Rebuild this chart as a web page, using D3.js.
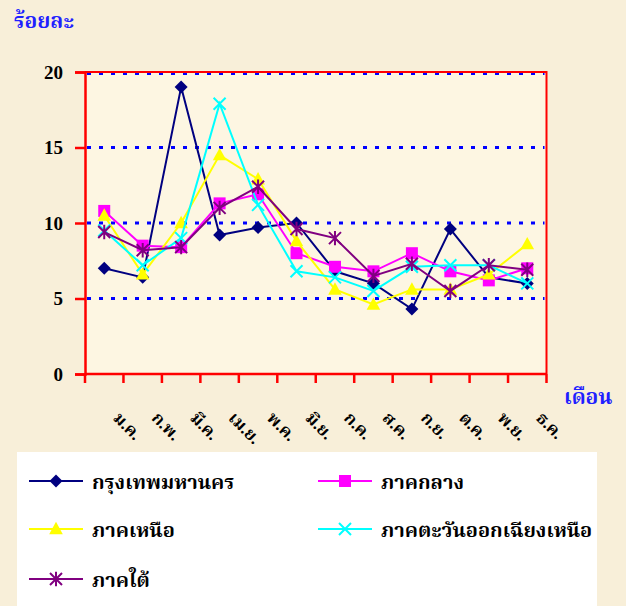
<!DOCTYPE html>
<html>
<head>
<meta charset="utf-8">
<script src="https://cdn.jsdelivr.net/npm/d3@7"></script>
<style>
  html, body { margin: 0; padding: 0; background: #f8efd9; }
  svg { display: block; }
  text { font-family: "Liberation Serif", "Times New Roman", "Noto Serif Thai", "Noto Sans Thai", serif; font-weight: bold; }
</style>
</head>
<body>
<script>
// months (Thai abbreviations)
let months = ["ม.ค.", "ก.พ.", "มี.ค.", "เม.ย.", "พ.ค.", "มิ.ย.", "ก.ค.", "ส.ค.", "ก.ย.", "ต.ค.", "พ.ย.", "ธ.ค."];
let yTicks = [0, 5, 10, 15, 20];

// percent per month
let bangkok   = [7.0, 6.4, 19.0, 9.2, 9.7, 10.0, 6.8, 6.0, 4.3, 9.6, 6.4, 6.0];
let central   = [10.8, 8.5, 8.4, 11.3, 11.9, 8.0, 7.1, 6.8, 8.0, 6.8, 6.2, 7.0];
let north     = [10.5, 6.6, 10.0, 14.5, 12.9, 8.8, 5.6, 4.6, 5.6, 5.6, 6.6, 8.6];
let northeast = [9.5, 7.2, 9.0, 17.9, 11.2, 6.8, 6.4, 5.5, 7.1, 7.2, 7.2, 6.0];
let south     = [9.4, 8.2, 8.4, 11.0, 12.4, 9.6, 9.0, 6.5, 7.3, 5.5, 7.2, 6.9];

let series = [
  { name: "กรุงเทพมหานคร", values: bangkok, color: "#000080", marker: "diamond" },
  { name: "ภาคกลาง", values: central, color: "#ff00ff", marker: "square" },
  { name: "ภาคเหนือ", values: north, color: "#ffff00", marker: "triangle" },
  { name: "ภาคตะวันออกเฉียงเหนือ", values: northeast, color: "#00ffff", marker: "x" },
  { name: "ภาคใต้", values: south, color: "#800080", marker: "star" }
];

let width = 626, height = 606;
let plot = { left: 85, right: 546.5, top: 72, bottom: 374 };

let svg = d3.select("body").append("svg")
  .attr("width", width)
  .attr("height", height);

let x = d3.scaleBand().domain(months).range([plot.left, plot.right]);
let y = d3.scaleLinear().domain([0, 20]).range([plot.bottom, plot.top]);

// plot background
svg.append("rect")
  .attr("x", plot.left).attr("y", plot.top)
  .attr("width", plot.right - plot.left).attr("height", plot.bottom - plot.top)
  .style("fill", "#fdf6e2");

// dotted gridlines
svg.append("g").selectAll("line")
  .data(yTicks.filter(d => d > 0))
  .enter().append("line")
  .attr("x1", plot.left + 2).attr("x2", plot.right - 2)
  .attr("y1", d => y(d) + (d == 20 ? 1.5 : 0)).attr("y2", d => y(d) + (d == 20 ? 1.5 : 0))
  .style("stroke", "#0000ff")
  .style("stroke-width", 3)
  .style("stroke-dasharray", "4,8");

// top and right border
svg.append("path")
  .attr("d", `M${plot.left},${plot.top}H${plot.right}V${plot.bottom}`)
  .style("fill", "none").style("stroke", "#ff0000").style("stroke-width", 2);

// y axis
let yAxis = svg.append("g")
  .attr("transform", `translate(${plot.left},0)`)
  .call(d3.axisLeft(y).tickValues(yTicks).tickSize(10).tickPadding(12));
yAxis.select(".domain").style("stroke", "#ff0000").style("stroke-width", 2.5);
yAxis.selectAll(".tick line").style("stroke", "#ff0000").style("stroke-width", 2.5);
yAxis.selectAll(".tick text")
  .style("font-size", "19px").style("fill", "#000")
  .style("font-family", "'Liberation Serif', serif").style("font-weight", "bold");

// x axis: ticks at category boundaries
let xAxis = svg.append("g").attr("transform", `translate(0,${plot.bottom})`);
xAxis.append("line")
  .attr("x1", plot.left).attr("x2", plot.right)
  .style("stroke", "#ff0000").style("stroke-width", 2.5);
xAxis.selectAll(".xt")
  .data(months.concat(["end"]))
  .enter().append("line")
  .attr("class", "xt")
  .attr("x1", (d, i) => i < months.length ? x(d) : plot.right)
  .attr("x2", (d, i) => i < months.length ? x(d) : plot.right)
  .attr("y1", 0).attr("y2", 9)
  .style("stroke", "#ff0000").style("stroke-width", 2.5);
xAxis.selectAll(".xl")
  .data(months)
  .enter().append("text")
  .attr("class", "xl")
  .attr("transform", d => `translate(${x(d) + x.bandwidth() / 2 + 8},${45}) rotate(45)`)
  .style("font-size", "17px")
  .style("fill", "#000")
  .text(d => d);

// axis titles
svg.append("text")
  .attr("x", 14).attr("y", 28)
  .style("font-size", "21px").style("fill", "#1f1fff")
  .text("ร้อยละ");
svg.append("text")
  .attr("x", 564).attr("y", 404)
  .style("font-size", "21px").style("fill", "#1f1fff")
  .text("เดือน");

// markers
function markerPath(type, s) {
  if (type == "diamond") return `M0,${-s}L${s},0L0,${s}L${-s},0Z`;
  if (type == "square") return `M${-s},${-s}H${s}V${s}H${-s}Z`;
  if (type == "triangle") return `M0,${-s * 1.1}L${s * 1.05},${s * 0.8}H${-s * 1.05}Z`;
  if (type == "x") return `M${-s},${-s}L${s},${s}M${-s},${s}L${s},${-s}`;
  return `M${-s},${-s}L${s},${s}M${-s},${s}L${s},${-s}M0,${-s * 1.2}V${s * 1.2}`;
}
let markerSize = { diamond: 6.5, square: 6, triangle: 6.5, x: 6, star: 6 };
let filled = { diamond: true, square: true, triangle: true, x: false, star: false };

let line = d3.line()
  .x((d, i) => x(months[i]) + x.bandwidth() / 2)
  .y(d => y(d));

series.forEach(s => {
  let g = svg.append("g");
  g.append("path")
    .attr("d", line(s.values))
    .style("fill", "none")
    .style("stroke", s.color)
    .style("stroke-width", 2);
  g.selectAll("path.m")
    .data(s.values)
    .enter().append("path")
    .attr("class", "m")
    .attr("transform", (d, i) => `translate(${x(months[i]) + x.bandwidth() / 2},${y(d)})`)
    .attr("d", markerPath(s.marker, markerSize[s.marker]))
    .style("fill", filled[s.marker] ? s.color : "none")
    .style("stroke", s.color)
    .style("stroke-width", filled[s.marker] ? 0 : 2);
});

// legend
let legend = svg.append("g");
legend.append("rect")
  .attr("x", 17).attr("y", 452)
  .attr("width", 580).attr("height", 160)
  .style("fill", "#ffffff");

let legendPos = [[29, 481], [318, 481], [29, 529], [318, 529], [29, 579]];
series.forEach((s, i) => {
  let item = legend.append("g").attr("transform", `translate(${legendPos[i][0]},${legendPos[i][1]})`);
  item.append("line")
    .attr("x1", 0).attr("x2", 54)
    .style("stroke", s.color).style("stroke-width", 2);
  item.append("path")
    .attr("transform", "translate(27,0)")
    .attr("d", markerPath(s.marker, markerSize[s.marker]))
    .style("fill", filled[s.marker] ? s.color : "none")
    .style("stroke", s.color)
    .style("stroke-width", filled[s.marker] ? 0 : 2);
  item.append("text")
    .attr("x", 63).attr("y", 8)
    .style("font-size", "20px").style("fill", "#000")
    .text(s.name);
});
</script>
</body>
</html>
